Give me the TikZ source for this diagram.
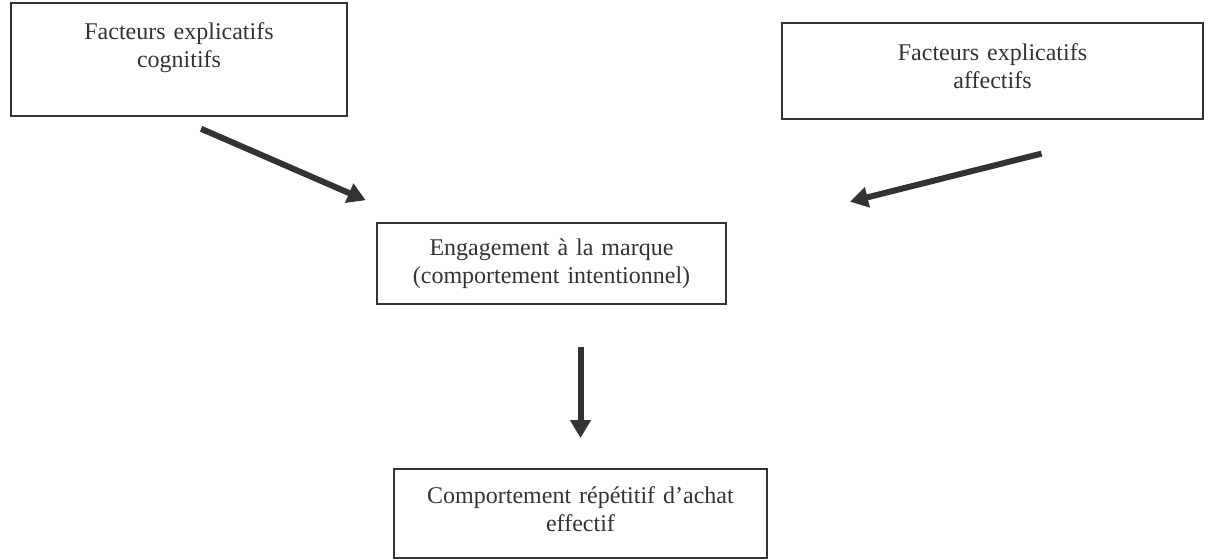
\documentclass[tikz,border=0pt]{standalone}
\usepackage{fontspec}
\setmainfont{Liberation Serif}
\usepackage{xcolor}
\usepackage{tikz}
\usetikzlibrary{arrows.meta, positioning}
\definecolor{trait}{HTML}{333333}
\tikzstyle{block} = [rectangle, draw=trait, line width=1pt, text=trait, align=center, inner xsep=0pt, inner ysep=0pt, anchor=north west, font=\fontsize{12pt}{14pt}\selectfont]
\tikzstyle{arrow} = [draw=trait, line width=3pt, ->, >={Triangle[length=9pt,width=10pt]}]

\begin{document}
\begin{tikzpicture}[x=0.5pt, y=-0.5pt]
    \useasboundingbox (0,0) rectangle (1222,559);
    \node (cog) [block, text width=168pt, text height=18pt, text depth=38.5pt] at (10,2) {Facteurs explicatifs\\cognitifs};
    \node (aff) [block, text width=210.5pt, text height=18.5pt, text depth=29.5pt] at (781,22) {Facteurs explicatifs\\affectifs};
    \node (eng) [block, text width=174.5pt, text height=16pt, text depth=24.5pt] at (376,222) {Engagement à la marque\\(comportement intentionnel)};
    \node (com) [block, text width=186.5pt, text height=17pt, text depth=27.5pt] at (393,468) {Comportement répétitif d’achat\\effectif};

    \draw[arrow, shorten <=14.8pt, shorten >=27.3pt] (cog.-95) -- (eng.163);
    \draw[arrow, shorten <=69pt, shorten >=63.4pt] (aff.-15) -- (eng.10.2);
    \draw[arrow, shorten <=21pt, shorten >=15pt] (eng.south -| com.north) -- (com.north);
\end{tikzpicture}
\end{document}
